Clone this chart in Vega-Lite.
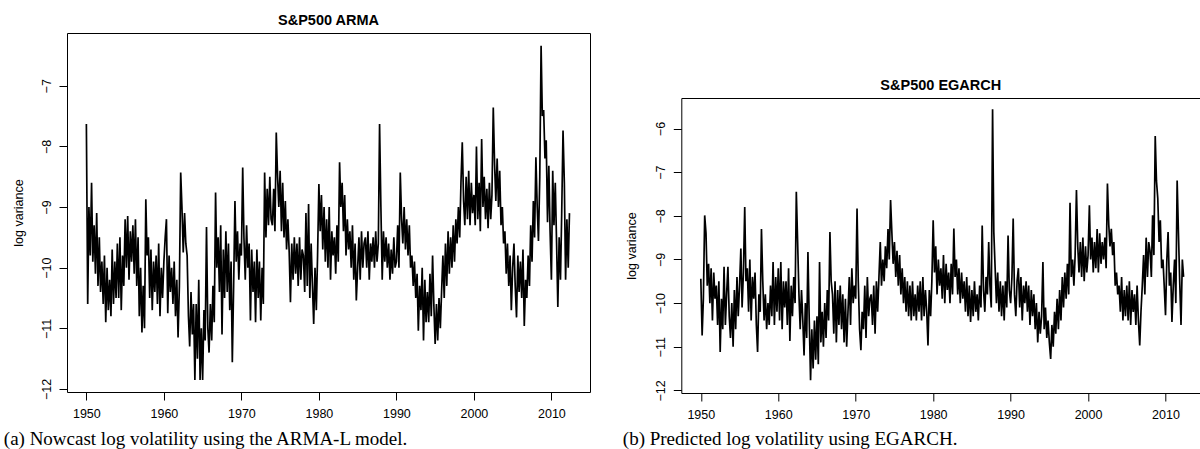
{
"$schema": "https://vega.github.io/schema/vega-lite/v6.json",
"background": "white",
"padding": {"left": 2, "top": 12, "right": 0, "bottom": 0},
"config": {
  "view": {"stroke": "black", "strokeWidth": 1},
  "font": "Liberation Sans",
  "axis": {"grid": false, "domain": false, "tickColor": "black", "tickSize": 8, "tickWidth": 1, "labelColor": "black", "labelFont": "Liberation Sans", "labelFontSize": 12.5, "titleFont": "Liberation Sans", "titleColor": "black", "titleFontWeight": "normal", "titleFontSize": 12.5, "labelOverlap": false, "labelFlush": false}
},
"datasets": {
"arma": [
{"t":1950,"v":-7.63},{"t":1950.17,"v":-10.6},{"t":1950.33,"v":-9.0},{"t":1950.5,"v":-9.8},{"t":1950.67,"v":-8.6},{"t":1950.83,"v":-9.9},
{"t":1951,"v":-9.3},{"t":1951.17,"v":-10.1},{"t":1951.33,"v":-9.1},{"t":1951.5,"v":-10.3},{"t":1951.67,"v":-9.5},{"t":1951.83,"v":-10.4},
{"t":1952,"v":-9.9},{"t":1952.17,"v":-10.6},{"t":1952.33,"v":-9.8},{"t":1952.5,"v":-10.9},{"t":1952.67,"v":-10.0},{"t":1952.83,"v":-10.7},
{"t":1953,"v":-10.2},{"t":1953.17,"v":-10.8},{"t":1953.33,"v":-9.7},{"t":1953.5,"v":-10.6},{"t":1953.67,"v":-9.9},{"t":1953.83,"v":-10.5},
{"t":1954,"v":-9.6},{"t":1954.17,"v":-10.5},{"t":1954.33,"v":-9.5},{"t":1954.5,"v":-10.7},{"t":1954.67,"v":-9.8},{"t":1954.83,"v":-10.3},
{"t":1955,"v":-9.2},{"t":1955.17,"v":-10.0},{"t":1955.33,"v":-9.15},{"t":1955.5,"v":-10.2},{"t":1955.67,"v":-9.4},{"t":1955.83,"v":-9.9},
{"t":1956,"v":-9.3},{"t":1956.17,"v":-10.1},{"t":1956.33,"v":-9.2},{"t":1956.5,"v":-10.3},{"t":1956.67,"v":-9.5},{"t":1956.83,"v":-10.8},
{"t":1957,"v":-10.0},{"t":1957.17,"v":-11.07},{"t":1957.33,"v":-10.3},{"t":1957.5,"v":-11.0},{"t":1957.67,"v":-8.87},{"t":1957.83,"v":-9.8},
{"t":1958,"v":-9.5},{"t":1958.17,"v":-10.5},{"t":1958.33,"v":-9.7},{"t":1958.5,"v":-10.7},{"t":1958.67,"v":-9.9},{"t":1958.83,"v":-10.4},
{"t":1959,"v":-9.8},{"t":1959.17,"v":-10.6},{"t":1959.33,"v":-9.6},{"t":1959.5,"v":-10.8},{"t":1959.67,"v":-10.0},{"t":1959.83,"v":-10.5},
{"t":1960,"v":-9.9},{"t":1960.17,"v":-9.5},{"t":1960.33,"v":-9.2},{"t":1960.5,"v":-10.75},{"t":1960.67,"v":-9.8},{"t":1960.83,"v":-10.4},
{"t":1961,"v":-10.0},{"t":1961.17,"v":-10.6},{"t":1961.33,"v":-9.9},{"t":1961.5,"v":-10.8},{"t":1961.67,"v":-10.2},{"t":1961.83,"v":-11.15},
{"t":1962,"v":-10.3},{"t":1962.17,"v":-8.43},{"t":1962.33,"v":-9.0},{"t":1962.5,"v":-9.75},{"t":1962.67,"v":-9.1},{"t":1962.83,"v":-9.6},
{"t":1963,"v":-9.8},{"t":1963.17,"v":-10.8},{"t":1963.33,"v":-11.3},{"t":1963.5,"v":-10.4},{"t":1963.67,"v":-11.1},{"t":1963.83,"v":-10.6},
{"t":1964,"v":-11.85},{"t":1964.17,"v":-10.6},{"t":1964.33,"v":-11.5},{"t":1964.5,"v":-10.2},{"t":1964.67,"v":-11.85},{"t":1964.83,"v":-11.0},
{"t":1965,"v":-11.85},{"t":1965.17,"v":-10.7},{"t":1965.33,"v":-11.2},{"t":1965.5,"v":-9.33},{"t":1965.67,"v":-11.0},{"t":1965.83,"v":-11.4},
{"t":1966,"v":-10.6},{"t":1966.17,"v":-11.2},{"t":1966.33,"v":-10.3},{"t":1966.5,"v":-10.9},{"t":1966.67,"v":-8.76},{"t":1966.83,"v":-10.0},
{"t":1967,"v":-9.5},{"t":1967.17,"v":-10.4},{"t":1967.33,"v":-9.3},{"t":1967.5,"v":-11.1},{"t":1967.67,"v":-9.7},{"t":1967.83,"v":-10.5},
{"t":1968,"v":-9.4},{"t":1968.17,"v":-10.4},{"t":1968.33,"v":-9.6},{"t":1968.5,"v":-10.7},{"t":1968.67,"v":-9.9},{"t":1968.83,"v":-11.56},
{"t":1969,"v":-10.3},{"t":1969.17,"v":-8.9},{"t":1969.33,"v":-9.9},{"t":1969.5,"v":-9.4},{"t":1969.67,"v":-10.2},{"t":1969.83,"v":-9.6},
{"t":1970,"v":-9.8},{"t":1970.17,"v":-8.35},{"t":1970.33,"v":-9.5},{"t":1970.5,"v":-10.2},{"t":1970.67,"v":-9.3},{"t":1970.83,"v":-10.0},
{"t":1971,"v":-9.6},{"t":1971.17,"v":-10.87},{"t":1971.33,"v":-9.7},{"t":1971.5,"v":-10.4},{"t":1971.67,"v":-9.9},{"t":1971.83,"v":-10.9},
{"t":1972,"v":-9.7},{"t":1972.17,"v":-10.5},{"t":1972.33,"v":-9.9},{"t":1972.5,"v":-10.87},{"t":1972.67,"v":-10.0},{"t":1972.83,"v":-10.6},
{"t":1973,"v":-8.43},{"t":1973.17,"v":-9.5},{"t":1973.33,"v":-8.7},{"t":1973.5,"v":-9.3},{"t":1973.67,"v":-8.5},{"t":1973.83,"v":-9.2},
{"t":1974,"v":-9.3},{"t":1974.17,"v":-8.7},{"t":1974.33,"v":-9.4},{"t":1974.5,"v":-7.77},{"t":1974.67,"v":-8.5},{"t":1974.83,"v":-9.0},
{"t":1975,"v":-8.4},{"t":1975.17,"v":-9.4},{"t":1975.33,"v":-8.6},{"t":1975.5,"v":-9.5},{"t":1975.67,"v":-8.9},{"t":1975.83,"v":-9.7},
{"t":1976,"v":-9.2},{"t":1976.17,"v":-9.75},{"t":1976.33,"v":-10.57},{"t":1976.5,"v":-9.6},{"t":1976.67,"v":-10.2},{"t":1976.83,"v":-9.5},
{"t":1977,"v":-10.1},{"t":1977.17,"v":-9.6},{"t":1977.33,"v":-10.3},{"t":1977.5,"v":-9.5},{"t":1977.67,"v":-10.2},{"t":1977.83,"v":-9.7},
{"t":1978,"v":-9.8},{"t":1978.17,"v":-10.4},{"t":1978.33,"v":-9.1},{"t":1978.5,"v":-10.3},{"t":1978.67,"v":-8.95},{"t":1978.83,"v":-10.5},
{"t":1979,"v":-9.6},{"t":1979.17,"v":-10.3},{"t":1979.33,"v":-10.93},{"t":1979.5,"v":-10.0},{"t":1979.67,"v":-10.7},{"t":1979.83,"v":-9.8},
{"t":1980,"v":-8.62},{"t":1980.17,"v":-9.4},{"t":1980.33,"v":-8.8},{"t":1980.5,"v":-9.7},{"t":1980.67,"v":-9.0},{"t":1980.83,"v":-9.9},
{"t":1981,"v":-9.2},{"t":1981.17,"v":-10.0},{"t":1981.33,"v":-9.0},{"t":1981.5,"v":-10.2},{"t":1981.67,"v":-9.4},{"t":1981.83,"v":-9.8},
{"t":1982,"v":-9.5},{"t":1982.17,"v":-10.1},{"t":1982.33,"v":-9.3},{"t":1982.5,"v":-9.9},{"t":1982.67,"v":-8.26},{"t":1982.83,"v":-9.0},
{"t":1983,"v":-8.6},{"t":1983.17,"v":-9.4},{"t":1983.33,"v":-8.8},{"t":1983.5,"v":-9.8},{"t":1983.67,"v":-9.2},{"t":1983.83,"v":-9.7},
{"t":1984,"v":-9.4},{"t":1984.17,"v":-10.0},{"t":1984.33,"v":-9.3},{"t":1984.5,"v":-10.2},{"t":1984.67,"v":-9.6},{"t":1984.83,"v":-10.54},
{"t":1985,"v":-10.0},{"t":1985.17,"v":-9.5},{"t":1985.33,"v":-10.2},{"t":1985.5,"v":-9.4},{"t":1985.67,"v":-10.0},{"t":1985.83,"v":-9.6},
{"t":1986,"v":-9.5},{"t":1986.17,"v":-10.0},{"t":1986.33,"v":-9.4},{"t":1986.5,"v":-10.2},{"t":1986.67,"v":-9.6},{"t":1986.83,"v":-9.9},
{"t":1987,"v":-9.5},{"t":1987.17,"v":-10.0},{"t":1987.33,"v":-9.4},{"t":1987.5,"v":-9.9},{"t":1987.67,"v":-9.6},{"t":1987.83,"v":-7.63},
{"t":1988,"v":-9.0},{"t":1988.17,"v":-10.2},{"t":1988.33,"v":-9.4},{"t":1988.5,"v":-9.9},{"t":1988.67,"v":-9.5},{"t":1988.83,"v":-10.0},
{"t":1989,"v":-9.6},{"t":1989.17,"v":-10.2},{"t":1989.33,"v":-9.7},{"t":1989.5,"v":-10.1},{"t":1989.67,"v":-9.5},{"t":1989.83,"v":-10.0},
{"t":1990,"v":-9.9},{"t":1990.17,"v":-9.3},{"t":1990.33,"v":-10.0},{"t":1990.5,"v":-8.43},{"t":1990.67,"v":-9.2},{"t":1990.83,"v":-9.6},
{"t":1991,"v":-9.0},{"t":1991.17,"v":-9.7},{"t":1991.33,"v":-9.2},{"t":1991.5,"v":-9.8},{"t":1991.67,"v":-9.3},{"t":1991.83,"v":-10.0},
{"t":1992,"v":-9.8},{"t":1992.17,"v":-10.3},{"t":1992.33,"v":-9.9},{"t":1992.5,"v":-10.5},{"t":1992.67,"v":-10.1},{"t":1992.83,"v":-11.04},
{"t":1993,"v":-10.3},{"t":1993.17,"v":-10.7},{"t":1993.33,"v":-10.0},{"t":1993.5,"v":-11.2},{"t":1993.67,"v":-10.2},{"t":1993.83,"v":-10.9},
{"t":1994,"v":-10.4},{"t":1994.17,"v":-10.9},{"t":1994.33,"v":-10.1},{"t":1994.5,"v":-10.8},{"t":1994.67,"v":-9.8},{"t":1994.83,"v":-10.6},
{"t":1995,"v":-11.26},{"t":1995.17,"v":-10.6},{"t":1995.33,"v":-11.2},{"t":1995.5,"v":-10.5},{"t":1995.67,"v":-11.0},{"t":1995.83,"v":-10.4},
{"t":1996,"v":-9.8},{"t":1996.17,"v":-10.5},{"t":1996.33,"v":-9.6},{"t":1996.5,"v":-10.3},{"t":1996.67,"v":-9.4},{"t":1996.83,"v":-10.1},
{"t":1997,"v":-9.5},{"t":1997.17,"v":-10.0},{"t":1997.33,"v":-9.3},{"t":1997.5,"v":-9.9},{"t":1997.67,"v":-9.2},{"t":1997.83,"v":-9.6},
{"t":1998,"v":-9.0},{"t":1998.17,"v":-9.5},{"t":1998.33,"v":-8.6},{"t":1998.5,"v":-7.93},{"t":1998.67,"v":-8.9},{"t":1998.83,"v":-9.3},
{"t":1999,"v":-8.5},{"t":1999.17,"v":-9.2},{"t":1999.33,"v":-8.4},{"t":1999.5,"v":-9.3},{"t":1999.67,"v":-8.6},{"t":1999.83,"v":-9.1},
{"t":2000,"v":-8.8},{"t":2000.17,"v":-9.3},{"t":2000.33,"v":-8.0},{"t":2000.5,"v":-9.2},{"t":2000.67,"v":-8.6},{"t":2000.83,"v":-9.4},
{"t":2001,"v":-7.88},{"t":2001.17,"v":-9.0},{"t":2001.33,"v":-8.5},{"t":2001.5,"v":-9.2},{"t":2001.67,"v":-8.7},{"t":2001.83,"v":-9.35},
{"t":2002,"v":-8.6},{"t":2002.17,"v":-9.2},{"t":2002.33,"v":-8.8},{"t":2002.5,"v":-7.36},{"t":2002.67,"v":-8.3},{"t":2002.83,"v":-8.9},
{"t":2003,"v":-8.2},{"t":2003.17,"v":-9.0},{"t":2003.33,"v":-8.4},{"t":2003.5,"v":-9.3},{"t":2003.67,"v":-9.0},{"t":2003.83,"v":-9.6},
{"t":2004,"v":-9.4},{"t":2004.17,"v":-10.1},{"t":2004.33,"v":-9.6},{"t":2004.5,"v":-10.3},{"t":2004.67,"v":-9.8},{"t":2004.83,"v":-10.7},
{"t":2005,"v":-10.0},{"t":2005.17,"v":-9.6},{"t":2005.33,"v":-10.3},{"t":2005.5,"v":-10.82},{"t":2005.67,"v":-9.8},{"t":2005.83,"v":-10.4},
{"t":2006,"v":-9.9},{"t":2006.17,"v":-10.5},{"t":2006.33,"v":-9.7},{"t":2006.5,"v":-10.96},{"t":2006.67,"v":-10.2},{"t":2006.83,"v":-10.5},
{"t":2007,"v":-9.8},{"t":2007.17,"v":-10.3},{"t":2007.33,"v":-9.3},{"t":2007.5,"v":-9.9},{"t":2007.67,"v":-8.9},{"t":2007.83,"v":-9.5},
{"t":2008,"v":-8.18},{"t":2008.17,"v":-9.0},{"t":2008.33,"v":-9.56},{"t":2008.5,"v":-8.5},{"t":2008.67,"v":-6.34},{"t":2008.83,"v":-7.5},
{"t":2009,"v":-7.4},{"t":2009.17,"v":-8.2},{"t":2009.33,"v":-7.9},{"t":2009.5,"v":-9.25},{"t":2009.67,"v":-8.32},{"t":2009.83,"v":-9.4},
{"t":2010,"v":-10.2},{"t":2010.17,"v":-8.4},{"t":2010.33,"v":-9.3},{"t":2010.5,"v":-8.6},{"t":2010.67,"v":-9.6},{"t":2010.83,"v":-10.65},
{"t":2011,"v":-9.5},{"t":2011.17,"v":-10.2},{"t":2011.33,"v":-9.1},{"t":2011.5,"v":-7.74},{"t":2011.67,"v":-8.6},{"t":2011.83,"v":-10.2},
{"t":2012,"v":-9.2},{"t":2012.17,"v":-10.0},{"t":2012.33,"v":-9.1}
],
"egarch": [
{"t":1950,"v":-9.44},{"t":1950.17,"v":-10.74},{"t":1950.33,"v":-9.9},{"t":1950.5,"v":-7.99},{"t":1950.67,"v":-8.4},{"t":1950.83,"v":-9.6},
{"t":1951,"v":-9.1},{"t":1951.17,"v":-10.0},{"t":1951.33,"v":-9.2},{"t":1951.5,"v":-10.4},{"t":1951.67,"v":-9.3},{"t":1951.83,"v":-9.9},
{"t":1952,"v":-9.6},{"t":1952.17,"v":-10.5},{"t":1952.33,"v":-9.5},{"t":1952.5,"v":-11.12},{"t":1952.67,"v":-9.9},{"t":1952.83,"v":-10.6},
{"t":1953,"v":-9.17},{"t":1953.17,"v":-10.5},{"t":1953.33,"v":-9.8},{"t":1953.5,"v":-9.17},{"t":1953.67,"v":-10.3},{"t":1953.83,"v":-10.8},
{"t":1954,"v":-10.0},{"t":1954.17,"v":-11.0},{"t":1954.33,"v":-9.7},{"t":1954.5,"v":-10.6},{"t":1954.67,"v":-9.4},{"t":1954.83,"v":-10.3},
{"t":1955,"v":-9.6},{"t":1955.17,"v":-8.75},{"t":1955.33,"v":-10.1},{"t":1955.5,"v":-9.3},{"t":1955.67,"v":-7.8},{"t":1955.83,"v":-9.5},
{"t":1956,"v":-9.2},{"t":1956.17,"v":-10.2},{"t":1956.33,"v":-9.0},{"t":1956.5,"v":-10.4},{"t":1956.67,"v":-9.4},{"t":1956.83,"v":-9.9},
{"t":1957,"v":-9.3},{"t":1957.17,"v":-10.5},{"t":1957.33,"v":-11.12},{"t":1957.5,"v":-9.8},{"t":1957.67,"v":-10.2},{"t":1957.83,"v":-8.3},
{"t":1958,"v":-9.5},{"t":1958.17,"v":-10.4},{"t":1958.33,"v":-9.8},{"t":1958.5,"v":-10.6},{"t":1958.67,"v":-10.0},{"t":1958.83,"v":-10.5},
{"t":1959,"v":-9.6},{"t":1959.17,"v":-10.3},{"t":1959.33,"v":-9.06},{"t":1959.5,"v":-10.5},{"t":1959.67,"v":-9.4},{"t":1959.83,"v":-10.2},
{"t":1960,"v":-9.2},{"t":1960.17,"v":-10.4},{"t":1960.33,"v":-9.06},{"t":1960.5,"v":-10.6},{"t":1960.67,"v":-9.5},{"t":1960.83,"v":-10.1},
{"t":1961,"v":-9.5},{"t":1961.17,"v":-10.5},{"t":1961.33,"v":-9.2},{"t":1961.5,"v":-10.87},{"t":1961.67,"v":-9.6},{"t":1961.83,"v":-10.3},
{"t":1962,"v":-9.4},{"t":1962.17,"v":-10.0},{"t":1962.33,"v":-7.45},{"t":1962.5,"v":-8.6},{"t":1962.67,"v":-9.8},{"t":1962.83,"v":-10.6},
{"t":1963,"v":-9.7},{"t":1963.17,"v":-10.4},{"t":1963.33,"v":-11.2},{"t":1963.5,"v":-10.0},{"t":1963.67,"v":-10.8},{"t":1963.83,"v":-8.83},
{"t":1964,"v":-10.4},{"t":1964.17,"v":-11.77},{"t":1964.33,"v":-10.6},{"t":1964.5,"v":-11.5},{"t":1964.67,"v":-10.4},{"t":1964.83,"v":-11.3},
{"t":1965,"v":-10.3},{"t":1965.17,"v":-11.4},{"t":1965.33,"v":-9.06},{"t":1965.5,"v":-10.9},{"t":1965.67,"v":-10.2},{"t":1965.83,"v":-11.0},
{"t":1966,"v":-10.0},{"t":1966.17,"v":-10.8},{"t":1966.33,"v":-9.7},{"t":1966.5,"v":-10.4},{"t":1966.67,"v":-8.37},{"t":1966.83,"v":-9.5},
{"t":1967,"v":-9.8},{"t":1967.17,"v":-10.7},{"t":1967.33,"v":-9.5},{"t":1967.5,"v":-10.9},{"t":1967.67,"v":-9.7},{"t":1967.83,"v":-10.5},
{"t":1968,"v":-9.6},{"t":1968.17,"v":-10.6},{"t":1968.33,"v":-9.8},{"t":1968.5,"v":-10.9},{"t":1968.67,"v":-9.9},{"t":1968.83,"v":-11.0},
{"t":1969,"v":-10.2},{"t":1969.17,"v":-9.4},{"t":1969.33,"v":-10.5},{"t":1969.5,"v":-9.2},{"t":1969.67,"v":-10.0},{"t":1969.83,"v":-9.6},
{"t":1970,"v":-9.9},{"t":1970.17,"v":-7.83},{"t":1970.33,"v":-9.5},{"t":1970.5,"v":-10.6},{"t":1970.67,"v":-11.08},{"t":1970.83,"v":-10.2},
{"t":1971,"v":-10.6},{"t":1971.17,"v":-9.6},{"t":1971.33,"v":-10.8},{"t":1971.5,"v":-9.4},{"t":1971.67,"v":-10.3},{"t":1971.83,"v":-9.9},
{"t":1972,"v":-9.8},{"t":1972.17,"v":-10.5},{"t":1972.33,"v":-9.6},{"t":1972.5,"v":-10.7},{"t":1972.67,"v":-9.5},{"t":1972.83,"v":-10.2},
{"t":1973,"v":-9.4},{"t":1973.17,"v":-8.6},{"t":1973.33,"v":-9.6},{"t":1973.5,"v":-9.0},{"t":1973.67,"v":-9.5},{"t":1973.83,"v":-8.7},
{"t":1974,"v":-9.2},{"t":1974.17,"v":-8.3},{"t":1974.33,"v":-9.0},{"t":1974.5,"v":-7.64},{"t":1974.67,"v":-8.4},{"t":1974.83,"v":-9.1},
{"t":1975,"v":-8.6},{"t":1975.17,"v":-9.4},{"t":1975.33,"v":-8.8},{"t":1975.5,"v":-9.6},{"t":1975.67,"v":-8.9},{"t":1975.83,"v":-9.8},
{"t":1976,"v":-9.2},{"t":1976.17,"v":-10.0},{"t":1976.33,"v":-9.4},{"t":1976.5,"v":-10.2},{"t":1976.67,"v":-9.5},{"t":1976.83,"v":-10.3},
{"t":1977,"v":-9.6},{"t":1977.17,"v":-10.4},{"t":1977.33,"v":-9.5},{"t":1977.5,"v":-10.3},{"t":1977.67,"v":-9.8},{"t":1977.83,"v":-10.4},
{"t":1978,"v":-9.6},{"t":1978.17,"v":-10.2},{"t":1978.33,"v":-9.5},{"t":1978.5,"v":-10.4},{"t":1978.67,"v":-9.4},{"t":1978.83,"v":-10.3},
{"t":1979,"v":-9.7},{"t":1979.17,"v":-10.2},{"t":1979.33,"v":-10.97},{"t":1979.5,"v":-9.7},{"t":1979.67,"v":-10.3},{"t":1979.83,"v":-9.5},
{"t":1980,"v":-8.1},{"t":1980.17,"v":-9.3},{"t":1980.33,"v":-8.7},{"t":1980.5,"v":-9.8},{"t":1980.67,"v":-9.0},{"t":1980.83,"v":-9.6},
{"t":1981,"v":-9.2},{"t":1981.17,"v":-9.9},{"t":1981.33,"v":-8.9},{"t":1981.5,"v":-10.0},{"t":1981.67,"v":-9.1},{"t":1981.83,"v":-9.7},
{"t":1982,"v":-9.3},{"t":1982.17,"v":-10.0},{"t":1982.33,"v":-9.1},{"t":1982.5,"v":-9.8},{"t":1982.67,"v":-8.29},{"t":1982.83,"v":-9.4},
{"t":1983,"v":-9.0},{"t":1983.17,"v":-9.8},{"t":1983.33,"v":-9.2},{"t":1983.5,"v":-10.0},{"t":1983.67,"v":-9.3},{"t":1983.83,"v":-9.9},
{"t":1984,"v":-9.5},{"t":1984.17,"v":-10.2},{"t":1984.33,"v":-9.4},{"t":1984.5,"v":-10.3},{"t":1984.67,"v":-9.6},{"t":1984.83,"v":-10.43},
{"t":1985,"v":-9.7},{"t":1985.17,"v":-10.3},{"t":1985.33,"v":-9.5},{"t":1985.5,"v":-10.2},{"t":1985.67,"v":-9.8},{"t":1985.83,"v":-10.4},
{"t":1986,"v":-9.6},{"t":1986.17,"v":-10.1},{"t":1986.33,"v":-8.22},{"t":1986.5,"v":-9.7},{"t":1986.67,"v":-10.2},{"t":1986.83,"v":-9.4},
{"t":1987,"v":-9.8},{"t":1987.17,"v":-8.6},{"t":1987.33,"v":-9.6},{"t":1987.5,"v":-10.1},{"t":1987.67,"v":-5.56},{"t":1987.83,"v":-8.37},
{"t":1988,"v":-9.2},{"t":1988.17,"v":-10.0},{"t":1988.33,"v":-9.3},{"t":1988.5,"v":-10.2},{"t":1988.67,"v":-9.5},{"t":1988.83,"v":-10.3},
{"t":1989,"v":-9.6},{"t":1989.17,"v":-10.4},{"t":1989.33,"v":-9.5},{"t":1989.5,"v":-10.1},{"t":1989.67,"v":-8.45},{"t":1989.83,"v":-9.7},
{"t":1990,"v":-10.0},{"t":1990.17,"v":-9.4},{"t":1990.33,"v":-8.06},{"t":1990.5,"v":-9.8},{"t":1990.67,"v":-10.3},{"t":1990.83,"v":-9.5},
{"t":1991,"v":-9.2},{"t":1991.17,"v":-10.1},{"t":1991.33,"v":-9.4},{"t":1991.5,"v":-10.4},{"t":1991.67,"v":-9.6},{"t":1991.83,"v":-10.0},
{"t":1992,"v":-9.5},{"t":1992.17,"v":-10.2},{"t":1992.33,"v":-9.6},{"t":1992.5,"v":-10.5},{"t":1992.67,"v":-9.7},{"t":1992.83,"v":-10.3},
{"t":1993,"v":-9.8},{"t":1993.17,"v":-10.6},{"t":1993.33,"v":-10.0},{"t":1993.5,"v":-10.9},{"t":1993.67,"v":-10.2},{"t":1993.83,"v":-10.7},
{"t":1994,"v":-10.3},{"t":1994.17,"v":-9.06},{"t":1994.33,"v":-10.6},{"t":1994.5,"v":-10.1},{"t":1994.67,"v":-10.8},{"t":1994.83,"v":-10.4},
{"t":1995,"v":-10.9},{"t":1995.17,"v":-11.28},{"t":1995.33,"v":-10.5},{"t":1995.5,"v":-11.0},{"t":1995.67,"v":-10.2},{"t":1995.83,"v":-10.7},
{"t":1996,"v":-9.9},{"t":1996.17,"v":-10.6},{"t":1996.33,"v":-9.7},{"t":1996.5,"v":-10.4},{"t":1996.67,"v":-9.4},{"t":1996.83,"v":-10.1},
{"t":1997,"v":-9.3},{"t":1997.17,"v":-9.9},{"t":1997.33,"v":-9.1},{"t":1997.5,"v":-9.8},{"t":1997.67,"v":-7.7},{"t":1997.83,"v":-9.4},
{"t":1998,"v":-9.0},{"t":1998.17,"v":-9.6},{"t":1998.33,"v":-8.9},{"t":1998.5,"v":-7.41},{"t":1998.67,"v":-8.7},{"t":1998.83,"v":-9.3},
{"t":1999,"v":-8.6},{"t":1999.17,"v":-9.4},{"t":1999.33,"v":-8.5},{"t":1999.5,"v":-9.5},{"t":1999.67,"v":-8.7},{"t":1999.83,"v":-9.3},
{"t":2000,"v":-8.9},{"t":2000.17,"v":-7.76},{"t":2000.33,"v":-9.0},{"t":2000.5,"v":-8.5},{"t":2000.67,"v":-9.3},{"t":2000.83,"v":-8.6},
{"t":2001,"v":-9.2},{"t":2001.17,"v":-8.3},{"t":2001.33,"v":-9.3},{"t":2001.5,"v":-8.4},{"t":2001.67,"v":-9.1},{"t":2001.83,"v":-8.6},
{"t":2002,"v":-9.0},{"t":2002.17,"v":-8.5},{"t":2002.33,"v":-9.2},{"t":2002.5,"v":-7.26},{"t":2002.67,"v":-8.2},{"t":2002.83,"v":-8.7},
{"t":2003,"v":-8.3},{"t":2003.17,"v":-8.9},{"t":2003.33,"v":-8.6},{"t":2003.5,"v":-9.6},{"t":2003.67,"v":-9.3},{"t":2003.83,"v":-9.8},
{"t":2004,"v":-9.6},{"t":2004.17,"v":-10.2},{"t":2004.33,"v":-9.4},{"t":2004.5,"v":-10.4},{"t":2004.67,"v":-9.7},{"t":2004.83,"v":-10.3},
{"t":2005,"v":-9.6},{"t":2005.17,"v":-10.4},{"t":2005.33,"v":-9.5},{"t":2005.5,"v":-10.5},{"t":2005.67,"v":-9.7},{"t":2005.83,"v":-10.2},
{"t":2006,"v":-9.8},{"t":2006.17,"v":-10.5},{"t":2006.33,"v":-9.6},{"t":2006.5,"v":-10.4},{"t":2006.67,"v":-10.97},{"t":2006.83,"v":-10.2},
{"t":2007,"v":-9.6},{"t":2007.17,"v":-8.9},{"t":2007.33,"v":-9.8},{"t":2007.5,"v":-8.5},{"t":2007.67,"v":-9.4},{"t":2007.83,"v":-8.6},
{"t":2008,"v":-8.8},{"t":2008.17,"v":-9.4},{"t":2008.33,"v":-7.99},{"t":2008.5,"v":-8.9},{"t":2008.67,"v":-6.17},{"t":2008.83,"v":-7.2},
{"t":2009,"v":-7.6},{"t":2009.17,"v":-8.6},{"t":2009.33,"v":-8.1},{"t":2009.5,"v":-9.2},{"t":2009.67,"v":-9.0},{"t":2009.83,"v":-9.6},
{"t":2010,"v":-10.28},{"t":2010.17,"v":-9.0},{"t":2010.33,"v":-8.37},{"t":2010.5,"v":-9.6},{"t":2010.67,"v":-9.3},{"t":2010.83,"v":-10.43},
{"t":2011,"v":-9.6},{"t":2011.17,"v":-9.0},{"t":2011.33,"v":-10.0},{"t":2011.5,"v":-7.19},{"t":2011.67,"v":-8.4},{"t":2011.83,"v":-9.5},
{"t":2012,"v":-10.5},{"t":2012.17,"v":-9.0},{"t":2012.33,"v":-9.4}
]
},
"bounds": "flush",
"spacing": 91.3,
"hconcat": [
{
  "width": 523, "height": 359,
  "data": {"name": "arma"},
  "title": {"text": "S&P500 ARMA", "font": "Liberation Sans", "fontSize": 14.5, "fontWeight": "bold", "color": "black", "anchor": "middle", "frame": "group", "baseline": "alphabetic", "offset": -6.8},
  "mark": {"type": "line", "color": "black", "strokeWidth": 1.7},
  "encoding": {
    "x": {"field": "t", "type": "quantitative", "scale": {"domain": [1947.5, 2014.98], "nice": false, "zero": false},
      "axis": {"values": [1950,1960,1970,1980,1990,2000,2010], "format": "d", "labelPadding": 7.6, "labelBaseline": "top",
        "title": "(a) Nowcast log volatility using the ARMA-L model.", "titleFont": "Liberation Serif", "titleFontSize": 19,
        "titleX": -63.7, "titleY": 52, "titleAlign": "left", "titleAnchor": "start", "titleBaseline": "alphabetic"}},
    "y": {"field": "v", "type": "quantitative", "scale": {"domain": [-12.05, -6.13], "nice": false, "zero": false},
      "axis": {"values": [-12,-11,-10,-9,-8,-7], "labelAngle": 270, "labelAlign": "center", "labelBaseline": "bottom", "labelPadding": 5.6,
        "title": "log variance", "titleX": -48.5, "titleY": 179.5, "titleAngle": 270, "titleAlign": "center", "titleBaseline": "middle"}}
  }
},
{
  "bounds": "flush",
  "spacing": 0,
  "vconcat": [
    {
      "width": 519, "height": 65,
      "data": {"values": [{"a": 1}]},
      "view": {"stroke": null},
      "mark": {"type": "point", "opacity": 0},
      "encoding": {}
    },
    {
      "width": 519, "height": 295,
      "data": {"name": "egarch"},
      "view": {"stroke": null},
      "title": {"text": "S&P500 EGARCH", "font": "Liberation Sans", "fontSize": 14.5, "fontWeight": "bold", "color": "black", "anchor": "middle", "frame": "group", "baseline": "alphabetic", "offset": -6.5},
      "layer": [
        {
          "mark": {"type": "line", "color": "black", "strokeWidth": 1.7},
          "encoding": {
            "x": {"field": "t", "type": "quantitative", "scale": {"domain": [1947.48, 2014.49], "nice": false, "zero": false},
              "axis": {"values": [1950,1960,1970,1980,1990,2000,2010], "format": "d", "labelPadding": 7.6, "labelBaseline": "top", "domain": true, "domainColor": "black", "domainWidth": 1,
                "title": "(b) Predicted log volatility using EGARCH.", "titleFont": "Liberation Serif", "titleFontSize": 19,
                "titleX": -59, "titleY": 51, "titleAlign": "left", "titleAnchor": "start", "titleBaseline": "alphabetic"}},
            "y": {"field": "v", "type": "quantitative", "scale": {"domain": [-12.06, -5.30], "nice": false, "zero": false},
              "axis": {"values": [-12,-11,-10,-9,-8,-7,-6], "labelAngle": 270, "labelAlign": "center", "labelBaseline": "bottom", "labelPadding": 5.6, "domain": true, "domainColor": "black", "domainWidth": 1,
                "title": "log variance", "titleX": -49.4, "titleY": 147.5, "titleAngle": 270, "titleAlign": "center", "titleBaseline": "middle"}}
          }
        },
        {
          "mark": {"type": "line", "opacity": 0},
          "encoding": {
            "x": {"field": "t", "type": "quantitative", "axis": {"orient": "top", "labels": false, "ticks": false, "title": null, "domain": true, "domainColor": "black", "domainWidth": 1}}
          }
        }
      ],
      "resolve": {"axis": {"x": "independent"}}
    }
  ]
}
]
}
